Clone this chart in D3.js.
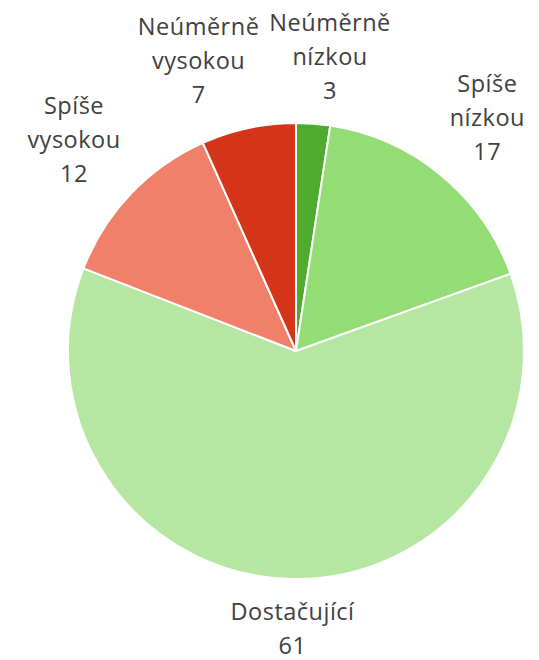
<!DOCTYPE html>
<html>
<head>
<meta charset="utf-8">
<script src="https://cdn.jsdelivr.net/npm/d3@7"></script>
<style>
  html, body { margin: 0; padding: 0; background: #fff; }
  svg { display: block; }
</style>
</head>
<body>
<svg id="chart"></svg>
<script>
// categories in clockwise order starting at 12 o'clock
const categories = [
    ["Neúměrně", "nízkou"],
    ["Spíše", "nízkou"],
    ["Dostačující"],
    ["Spíše", "vysokou"],
    ["Neúměrně", "vysokou"]
];
// shown labels (rounded so they add up to 100)
const labelValues = [3, 17, 61, 12, 7];
// slice shares
const shares = [2.4, 17.1, 61.4, 12.4, 6.7];
const colors = ["#4eab2e", "#94dc74", "#b5e6a2", "#f0806a", "#d43518"];

const width = 539, height = 660;
const cx = 296, cy = 351, radius = 228;
const fontSize = 23.5, lineHeight = 34;
const labelGap = 14;

const svg = d3.select("#chart")
    .attr("width", width)
    .attr("height", height);

const pie = d3.pie().sort(null).value(d => d.value);
const arcs = pie(shares.map((v, i) => ({
    value: v,
    lines: categories[i].concat([String(labelValues[i])]),
    color: colors[i]
})));

const arc = d3.arc().innerRadius(0).outerRadius(radius);

const g = svg.append("g").attr("transform", `translate(${cx},${cy})`);

g.selectAll("path")
    .data(arcs)
    .join("path")
    .attr("d", arc)
    .attr("fill", d => d.data.color)
    .attr("stroke", "#fff")
    .attr("stroke-width", 2)
    .attr("stroke-linejoin", "round");

// labels
const labels = g.selectAll("text.lbl")
    .data(arcs)
    .join("text")
    .attr("class", "lbl")
    .attr("text-anchor", "middle")
    .attr("fill", "#404040")
    .style("font-family", "'Segoe UI', 'Open Sans', 'Noto Sans', sans-serif")
    .style("font-size", fontSize + "px")
    .style("letter-spacing", "0.5px");

labels.each(function(d) {
    const t = d3.select(this);
    d.data.lines.forEach((line, i) => {
        t.append("tspan").attr("x", 0).attr("dy", i === 0 ? 0 : lineHeight).text(line);
    });
});

// place each label block outside the slice, along its mid angle
const boxes = [];
labels.each(function(d) {
    const tw = d3.max(Array.from(this.querySelectorAll("tspan")), s => s.getComputedTextLength());
    const hw = tw / 2;
    const n = d.data.lines.length;
    const hh = n * lineHeight / 2 + 2;
    const a = (d.startAngle + d.endAngle) / 2;
    const sx = Math.sin(a), sy = -Math.cos(a);
    // distance from block centre to its edge along the ray
    const tx = Math.abs(sx) > 1e-6 ? hw / Math.abs(sx) : Infinity;
    const ty = Math.abs(sy) > 1e-6 ? hh / Math.abs(sy) : Infinity;
    const dist = radius + labelGap + Math.min(tx, ty);
    boxes.push({ node: this, x: sx * dist, y: sy * dist, hw: hw + 5, hh, n });
});

// push overlapping labels apart sideways
for (let i = 0; i < boxes.length; i++) {
    for (let j = 0; j < i; j++) {
        const a = boxes[j], b = boxes[i];
        const ox = a.hw + b.hw - Math.abs(a.x - b.x);
        const oy = a.hh + b.hh - Math.abs(a.y - b.y);
        if (ox > 0 && oy > 0) {
            const s = b.x < a.x ? -1 : 1;
            a.x -= s * ox * 0.25;
            b.x += s * ox * 0.75;
        }
    }
}

boxes.forEach(b => {
    const base = b.y - (b.n - 1) / 2 * lineHeight + 8;
    d3.select(b.node)
        .attr("transform", `translate(${b.x},${base})`);
});
</script>
</body>
</html>
